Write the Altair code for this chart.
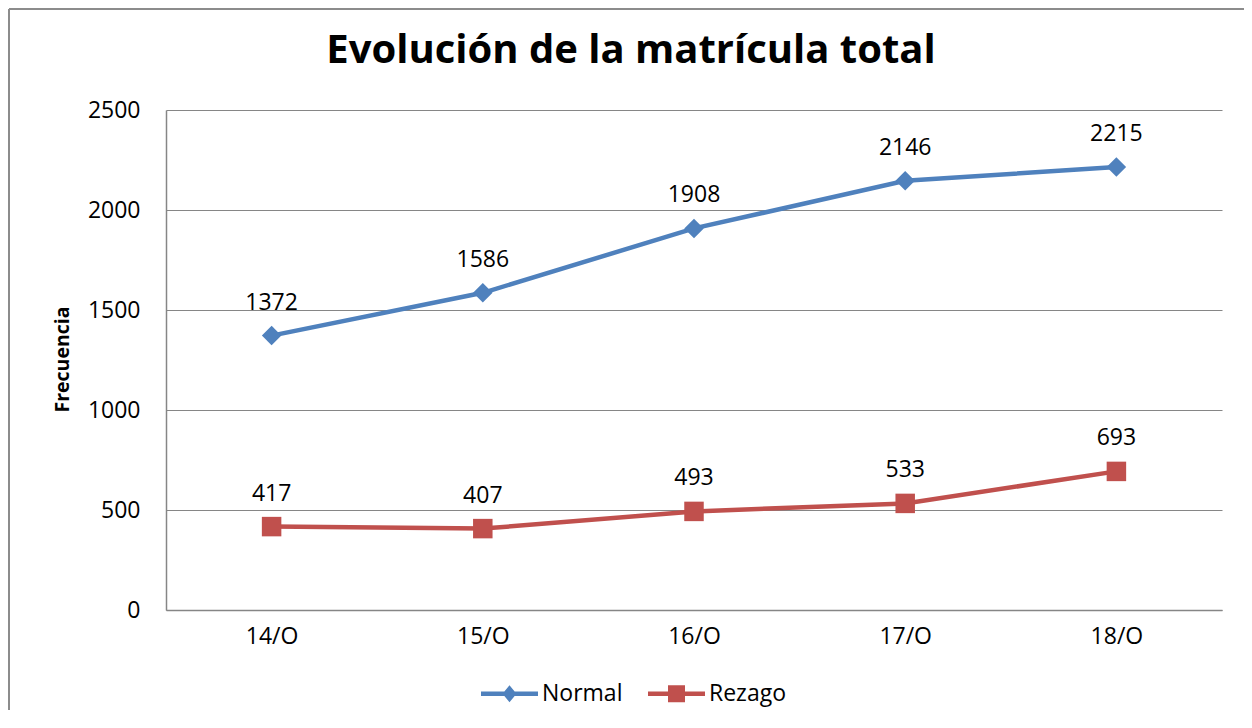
import altair as alt
import pandas as pd

categories = ["14/O", "15/O", "16/O", "17/O", "18/O"]
normal = [1372, 1586, 1908, 2146, 2215]
rezago = [417, 407, 493, 533, 693]
series_names = ["Normal", "Rezago"]
series_colors = ["#4F81BD", "#C0504D"]
series_shapes = ["diamond", "square"]
# legend symbols: a short line with the series marker in its middle
legend_paths = [
    "M-2.85,-0.23 L2.85,-0.23 L2.85,0.23 L-2.85,0.23 Z M0,-0.85 L0.7,0 L0,0.85 L-0.7,0 Z",
    "M-2.85,-0.23 L2.85,-0.23 L2.85,0.23 L-2.85,0.23 Z M-0.85,-0.85 L0.85,-0.85 L0.85,0.85 L-0.85,0.85 Z",
]
y_ticks = [0, 500, 1000, 1500, 2000, 2500]

rows = []
for name, vals in zip(series_names, [normal, rezago]):
    for c, v in zip(categories, vals):
        rows.append({"cat": c, "series": name, "value": v})
df = pd.DataFrame(rows)

FONT = "Open Sans"
GRAY = "#868686"
FS = 23

x_enc = alt.X("cat:N", sort=categories, scale=alt.Scale(type="point", padding=0.5),
              axis=alt.Axis(title=None, labelAngle=0, ticks=False, labelPadding=15,
                            domainColor=GRAY, domainWidth=1.5, grid=False))
y_enc = alt.Y("value:Q", scale=alt.Scale(domain=[0, 2500], nice=False),
              axis=alt.Axis(title="Frecuencia", values=y_ticks, format="d", ticks=False,
                            labelPadding=26, domainColor=GRAY, domainWidth=1.5,
                            gridColor=GRAY, gridWidth=1.2,
                            titleFont=FONT, titleFontSize=19.5, titleFontWeight="bold",
                            titleX=-104, titleY=249, titleAlign="center", titleBaseline="middle",
                            titleAngle=270))

base = alt.Chart(df)
layers = []

# outer frame (top and left edges only, as in the reference)
frame_top = alt.Chart(alt.Data(values=[{"a": 1}])).mark_rule(color="#8c8c8c", strokeWidth=2).encode(
    x=alt.value(-157), x2=alt.value(1200), y=alt.value(-101))
frame_left = alt.Chart(alt.Data(values=[{"a": 1}])).mark_rule(color="#8c8c8c", strokeWidth=2).encode(
    x=alt.value(-157), y=alt.value(-101), y2=alt.value(700))
layers += [frame_top, frame_left]

first = True
for name, color, shp in zip(series_names, series_colors, series_shapes):
    sub = base.transform_filter(alt.datum.series == name)
    line = sub.mark_line(strokeWidth=4.5, color=color).encode(
        x=x_enc if first else alt.X("cat:N", sort=categories),
        y=y_enc if first else alt.Y("value:Q"))
    pts = sub.mark_point(filled=True, opacity=1, size=380, color=color, shape=shp).encode(
        x=alt.X("cat:N", sort=categories), y="value:Q")
    layers += [line, pts]
    first = False

labels = base.mark_text(font=FONT, fontSize=FS, color="black", dy=-33, baseline="middle").encode(
    x=alt.X("cat:N", sort=categories), y="value:Q", text="value:Q",
)
layers.append(labels)

legend_layer = base.mark_point(filled=True, opacity=1).encode(
    x=alt.X("cat:N", sort=categories), y="value:Q",
    color=alt.Color("series:N", scale=alt.Scale(domain=series_names, range=series_colors),
                    legend=alt.Legend(title=None, orient="none", legendX=332, legendY=572,
                                      direction="horizontal", symbolSize=400,
                                      symbolStrokeWidth=0, symbolOpacity=1,
                                      labelFont=FONT, labelFontSize=FS, labelColor="black",
                                      labelOffset=21, columnPadding=25, padding=0)),
    shape=alt.Shape("series:N", scale=alt.Scale(domain=series_names, range=legend_paths)),
).transform_filter("false")
layers.append(legend_layer)

chart = alt.layer(*layers).properties(
    width=1056, height=500,
    title=alt.TitleParams("Evolución de la matrícula total", font=FONT, fontSize=40,
                          fontWeight="bold", color="black", anchor="middle", dx=-63,
                          baseline="alphabetic", offset=-95),
    autosize=alt.AutoSizeParams(type="none"),
    padding={"left": 158, "top": 102, "right": 22, "bottom": 100},
).configure_view(stroke=None).configure_axis(
    labelFont=FONT, labelFontSize=FS, labelColor="black"
)

chart.save("out.html", embed_options={"renderer": "svg", "actions": False})
